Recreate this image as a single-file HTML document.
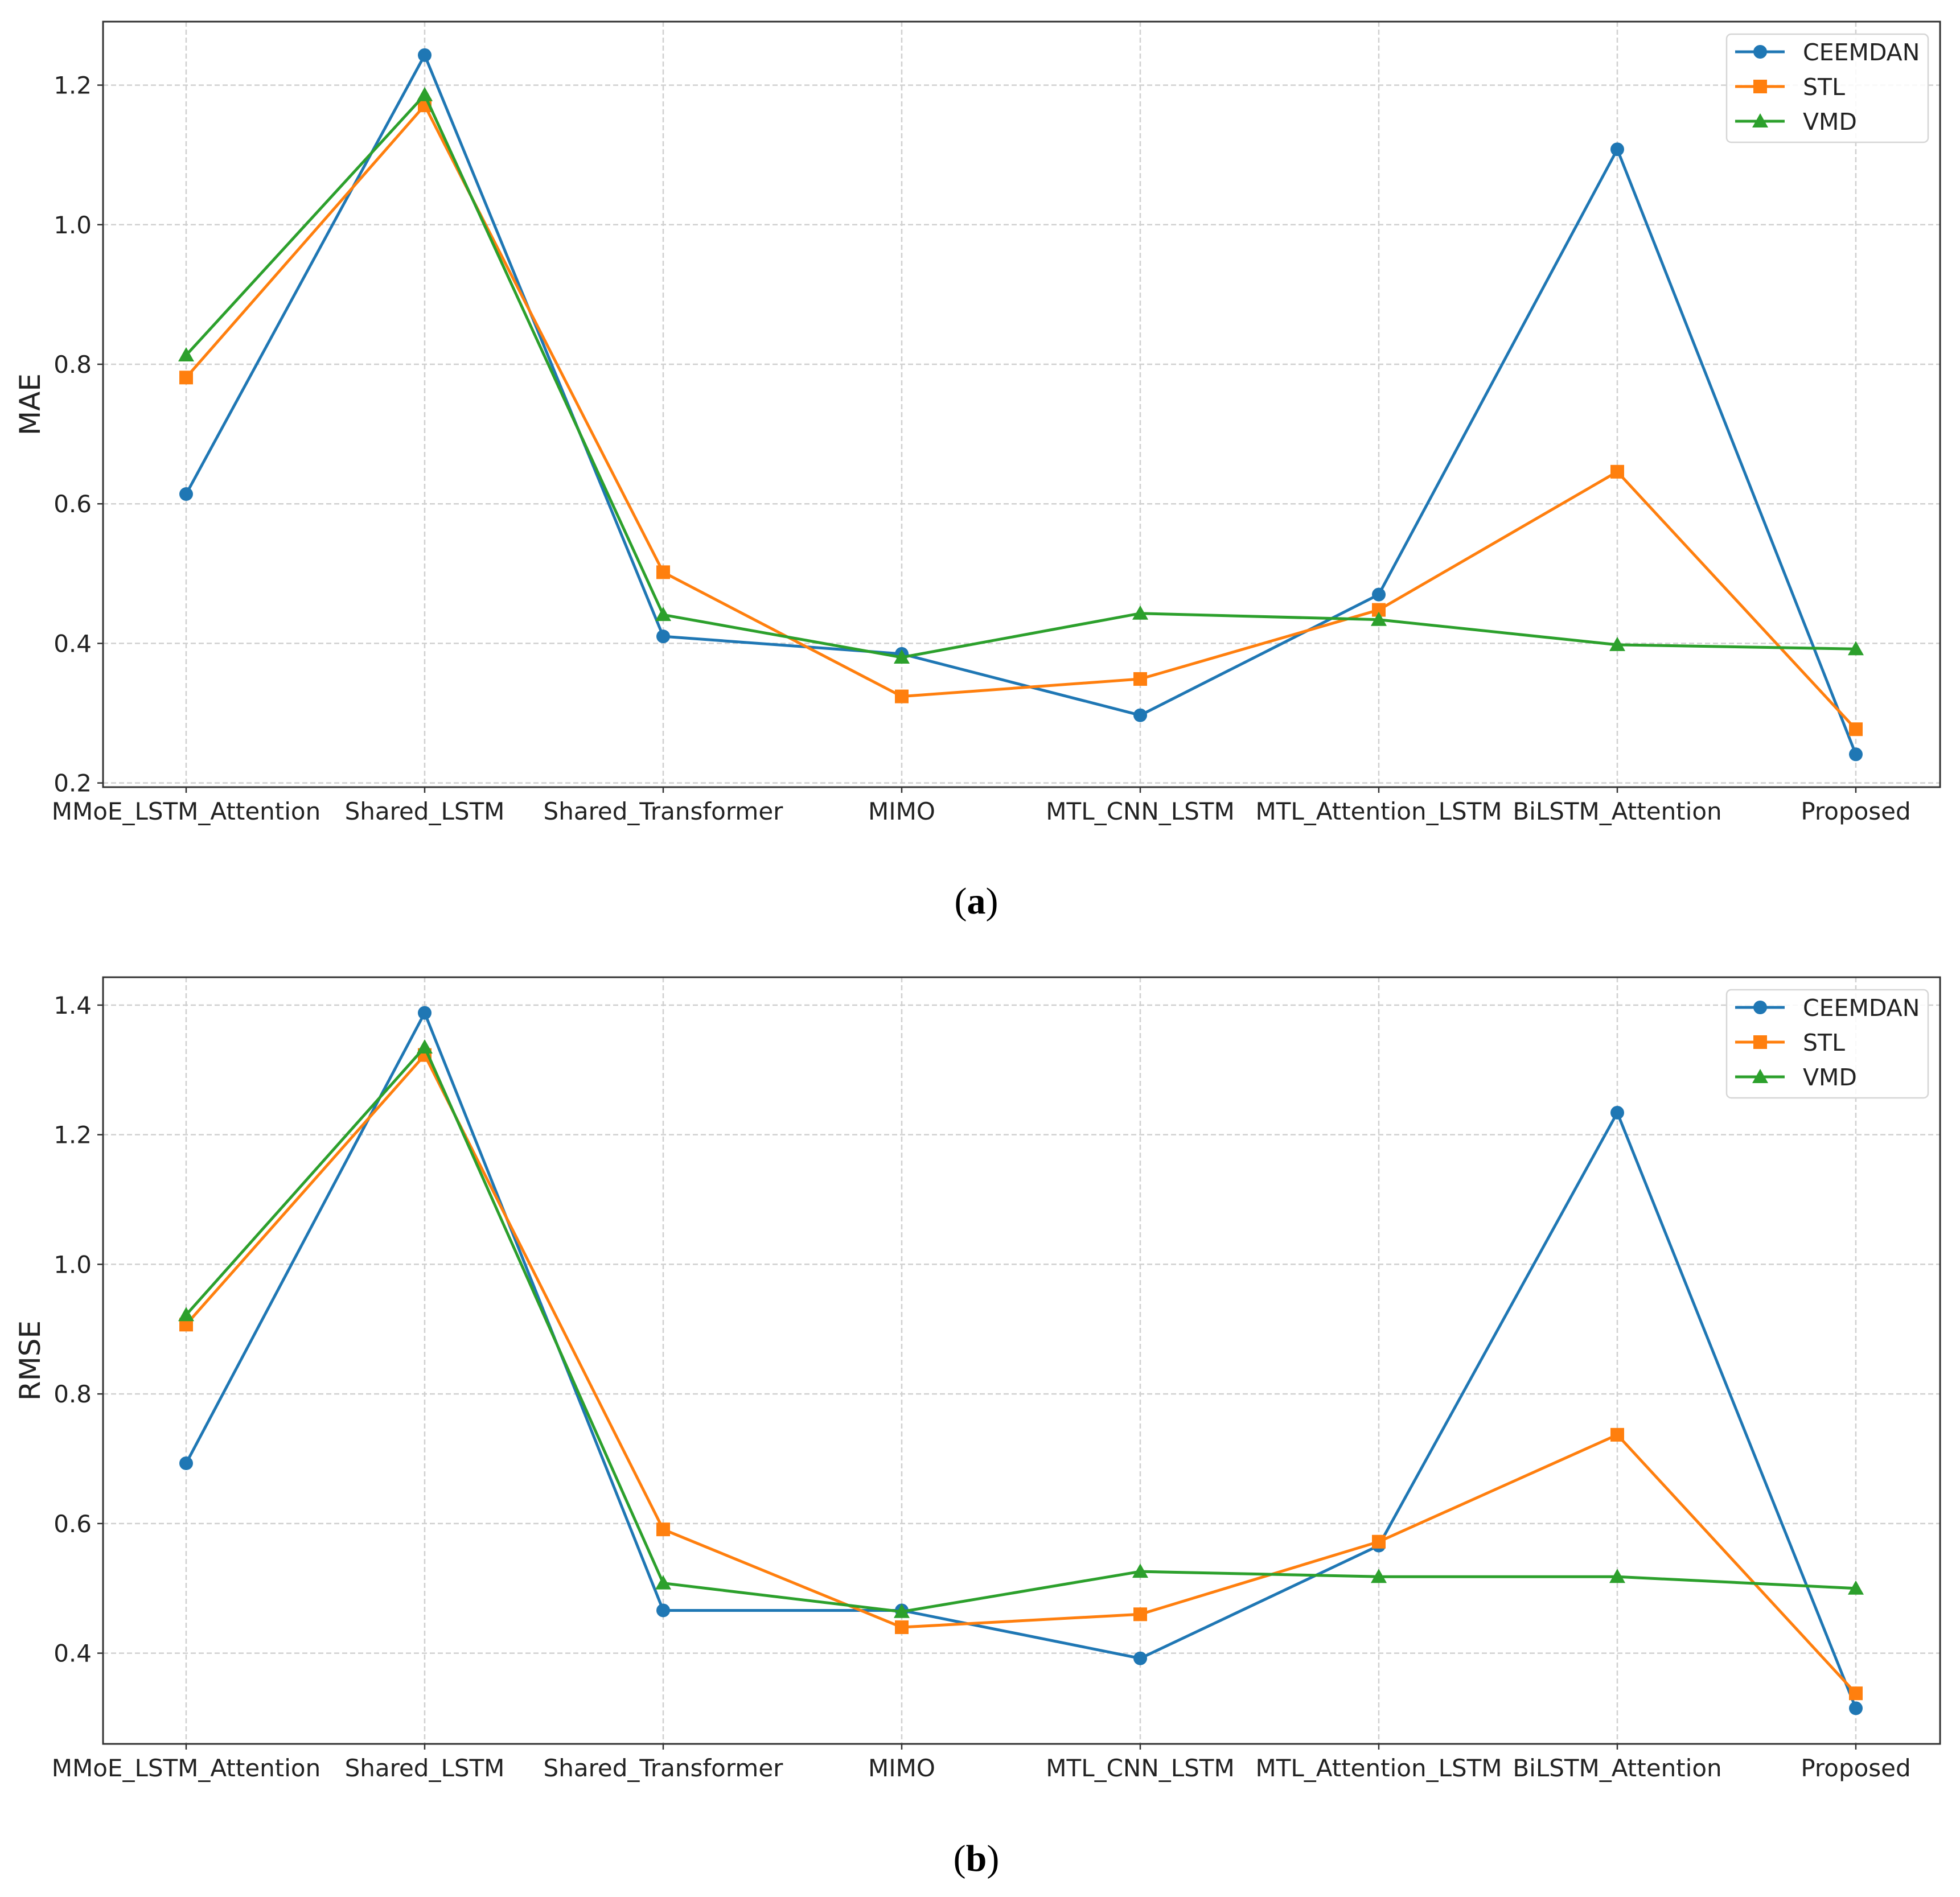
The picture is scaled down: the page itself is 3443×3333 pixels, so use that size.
<!DOCTYPE html>
<html><head><meta charset="utf-8">
<style>
html,body{margin:0;padding:0;background:#fff;}
svg{display:block;font-family:"DejaVu Sans","Liberation Sans",sans-serif;}
</style></head>
<body>
<svg id="fig" width="3443" height="3333" viewBox="0 0 3443 3333" xmlns="http://www.w3.org/2000/svg"></svg>
<script>
const categories = ["MMoE_LSTM_Attention","Shared_LSTM","Shared_Transformer","MIMO","MTL_CNN_LSTM","MTL_Attention_LSTM","BiLSTM_Attention","Proposed"];
const seriesNames = ["CEEMDAN","STL","VMD"];
const maeCEEMDAN = [0.614,1.243,0.410,0.385,0.297,0.470,1.108,0.241];
const maeSTL     = [0.781,1.171,0.502,0.324,0.349,0.448,0.646,0.277];
const maeVMD     = [0.813,1.186,0.441,0.380,0.443,0.434,0.398,0.392];
const rmseCEEMDAN = [0.693,1.388,0.466,0.466,0.392,0.566,1.234,0.315];
const rmseSTL     = [0.907,1.323,0.591,0.440,0.460,0.572,0.737,0.338];
const rmseVMD     = [0.922,1.335,0.508,0.464,0.526,0.518,0.518,0.500];
const maeTicks = [0.2,0.4,0.6,0.8,1.0,1.2];
const rmseTicks = [0.4,0.6,0.8,1.0,1.2,1.4];

const NS = "http://www.w3.org/2000/svg";
const svg = document.getElementById('fig');
const colors = ["#1f77b4","#ff7f0e","#2ca02c"];
const markers = ["circle","square","triangle"];

function mk(tag, attrs, parent){
  const e = document.createElementNS(NS, tag);
  for (const k in attrs) e.setAttribute(k, attrs[k]);
  (parent||svg).appendChild(e);
  return e;
}
function marker(g, kind, x, y, c){
  let m;
  if (kind==="circle") m = mk('circle',{cx:x,cy:y,r:12,fill:c},g);
  else if (kind==="square") m = mk('rect',{x:x-12,y:y-12,width:24,height:24,fill:c},g);
  else m = mk('polygon',{points:`${x},${y-14} ${x+14},${y+11} ${x-14},${y+11}`,fill:c},g);
  return m;
}

function panel(id, L, R, T, B, vmin, vmax, ticks, ylabel, data, label, labelY){
  const g = mk('g',{});
  
  
  const xs = i => 327 + i*419;
  const ys = v => B - (v - vmin)/(vmax - vmin)*(B - T);
  ticks.forEach(t=>{
    const y = ys(t);
    const l = mk('line',{x1:L,x2:R,y1:y,y2:y,stroke:"#d0d0d0","stroke-width":2.5,"stroke-dasharray":"9,5"},g);
    
    
    mk('line',{x1:L-10,x2:L,y1:y,y2:y,stroke:"#333","stroke-width":2.5},g);
    const tx = mk('text',{x:L-20,y:y+15,"text-anchor":"end","font-size":42,fill:"#222"},g);
    tx.textContent = t.toFixed(1);
    
    
  });
  categories.forEach((c,i)=>{
    const x = xs(i);
    const l = mk('line',{x1:x,x2:x,y1:T,y2:B,stroke:"#d0d0d0","stroke-width":2.5,"stroke-dasharray":"9,5"},g);
    
    
    mk('line',{x1:x,x2:x,y1:B,y2:B+10,stroke:"#333","stroke-width":2.5},g);
    const tx = mk('text',{x:x,y:B+57,"text-anchor":"middle","font-size":42,fill:"#222"},g);
    tx.textContent = c;
    
    
  });
  data.forEach((vals,s)=>{
    const sg = mk('g',{},g);
    
    
    const pts = vals.map((v,i)=>xs(i)+","+ys(v)).join(" ");
    const pl = mk('polyline',{points:pts,fill:"none",stroke:colors[s],"stroke-width":5},sg);
    
    
    vals.forEach((v,i)=>{
      const m = marker(sg, markers[s], xs(i), ys(v), colors[s]);
      
      
    });
  });
  const fr = mk('rect',{x:L,y:T,width:R-L,height:B-T,fill:"none",stroke:"#333","stroke-width":3},g);
  
  
  const yl = mk('text',{x:0,y:0,"text-anchor":"middle","font-size":50,fill:"#222",transform:`translate(70,${(T+B)/2}) rotate(-90)`},g);
  yl.textContent = ylabel;
  
  
  const lg = mk('g',{},g);
  
  
  mk('rect',{x:3033,y:T+22,width:354,height:190,rx:8,fill:"#fff","fill-opacity":0.85,stroke:"#d6d6d6","stroke-width":2.5},lg);
  seriesNames.forEach((n,s)=>{
    const y = T+53+s*61;
    const e = mk('g',{},lg);
    
    
    mk('line',{x1:3048,x2:3135,y1:y,y2:y,stroke:colors[s],"stroke-width":5},e);
    marker(e, markers[s], 3092, y, colors[s]);
    const t = mk('text',{x:3167,y:y+15,"font-size":41,fill:"#222"},e);
    t.textContent = n;
  });
  const pl = mk('text',{x:1715,y:labelY,"text-anchor":"middle","font-size":66,fill:"#000","font-family":"Liberation Serif, serif"},g);
  pl.innerHTML = '(<tspan font-weight="bold">'+label+'</tspan>)';
  
  
}

panel('mae', 181, 3408, 38, 1383, 0.194, 1.291, maeTicks, "MAE", [maeCEEMDAN, maeSTL, maeVMD], "a", 1605);
panel('rmse', 181, 3408, 1717, 3064, 0.260, 1.443, rmseTicks, "RMSE", [rmseCEEMDAN, rmseSTL, rmseVMD], "b", 3287);
</script>
</body></html>
